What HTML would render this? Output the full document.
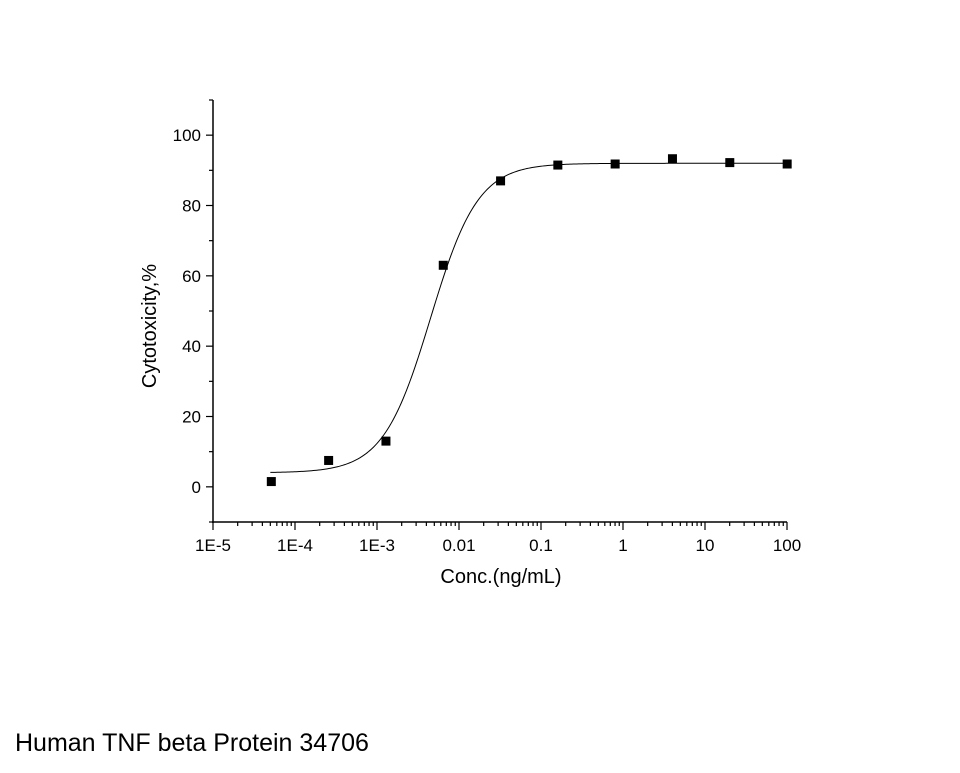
<!DOCTYPE html>
<html><head><meta charset="utf-8"><style>
body{margin:0;background:#fff;}
svg text{font-family:"Liberation Sans",Arial,sans-serif;}
</style></head><body>
<svg id="chart" width="960" height="768" xmlns="http://www.w3.org/2000/svg">
<g id="axes"></g>
<path id="curve" fill="none" stroke="#000" stroke-width="1"/>
<g id="pts"></g>
<text x="156" y="326" font-size="20" text-anchor="middle" transform="rotate(-90 156 326)">Cytotoxicity,%</text>
<text x="501" y="583" font-size="20" text-anchor="middle">Conc.(ng/mL)</text>
<text x="15" y="751" font-size="25">Human TNF beta Protein 34706</text>
</svg>
<script>
const concs=[5e-5,2.5e-4,1.25e-3,6.25e-3,0.03125,0.156,0.78,3.9,19.5,97.7];
const values=[1.5,7.5,13,63,87,91.5,91.8,93.3,92.2,91.8];
const yTicks=[0,20,40,60,80,100];
const xTickLabels=["1E-5","1E-4","1E-3","0.01","0.1","1","10","100"];
const fitBottom=4, fitTop=92, fitEC50=0.0045, fitHill=1.5;
const X0=213,X1=787,YT=100,YB=522;
function xs(v){return X0+(Math.log10(v)+5)/7*(X1-X0);}
function ys(v){return YB-(v+10)/120*(YB-YT);}
const NS="http://www.w3.org/2000/svg";
const ax=document.getElementById('axes');
function line(x1,y1,x2,y2,w){const l=document.createElementNS(NS,'line');l.setAttribute('x1',x1);l.setAttribute('y1',y1);l.setAttribute('x2',x2);l.setAttribute('y2',y2);l.setAttribute('stroke','#000');l.setAttribute('stroke-width',w||1);ax.appendChild(l);return l;}
function txt(x,y,s,anchor){const t=document.createElementNS(NS,'text');t.setAttribute('x',x);t.setAttribute('y',y);t.setAttribute('font-size','17');t.setAttribute('text-anchor',anchor);t.textContent=s;ax.appendChild(t);return t;}
const ya=line(X0,YT,X0,YB+1,1.5);


const xa=line(X0-1,YB,X1,YB,1.5);


for(let v=-10;v<=110;v+=10){const y=ys(v);const major=yTicks.includes(v);line(X0-(major?7:4),y,X0,y,1.2);}
yTicks.forEach(v=>{const t=txt(X0-12,ys(v)+6,String(v),'end');

});
xTickLabels.forEach((s,i)=>{const v=Math.pow(10,i-5);const x=xs(v);line(x,YB,x,YB+8,1.2);
const t=txt(x,YB+29,s,'middle');


if(i<7){for(let k=2;k<=9;k++){const xm=xs(v*k);line(xm,YB,xm,YB+4,1.2);}}});
let d='';
for(let i=0;i<=300;i++){const lx=Math.log10(5e-5)+i/300*(Math.log10(100)-Math.log10(5e-5));const c=Math.pow(10,lx);
const yv=fitBottom+(fitTop-fitBottom)/(1+Math.pow(fitEC50/c,fitHill));d+=(i?'L':'M')+xs(c).toFixed(2)+','+ys(yv).toFixed(2);}
document.getElementById('curve').setAttribute('d',d);
const pg=document.getElementById('pts');
concs.forEach((c,i)=>{const r=document.createElementNS(NS,'rect');r.setAttribute('x',xs(c)-3.5);r.setAttribute('y',ys(values[i])-4.5);r.setAttribute('width',9);r.setAttribute('height',9);r.setAttribute('fill','#000');


pg.appendChild(r);});
</script>
</body></html>
